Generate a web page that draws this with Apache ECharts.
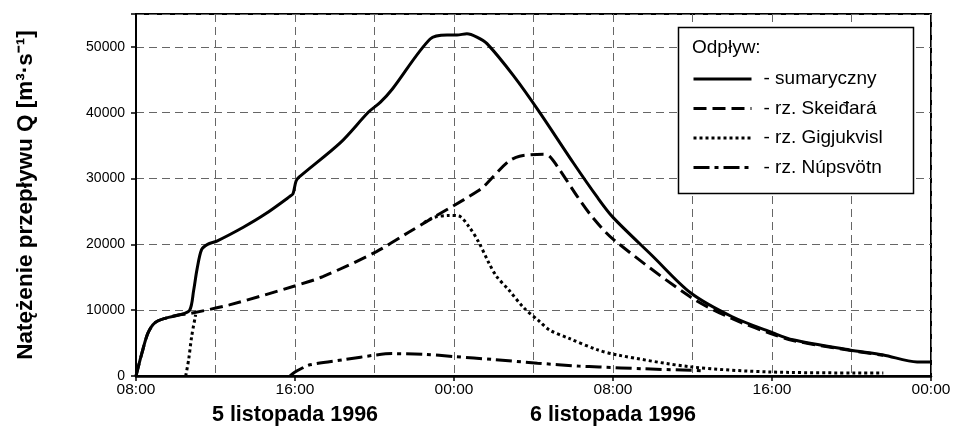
<!DOCTYPE html>
<html><head><meta charset="utf-8">
<script src="https://cdn.jsdelivr.net/npm/echarts@6/dist/echarts.min.js"></script>
<style>html,body{margin:0;padding:0;background:#fff}#c{width:959px;height:429px}</style>
</head><body><div id="c"></div>
<script>
// hours since 08:00, 5 Nov 1996
const seriesNames = ['sumaryczny', 'rz. Skeiđará', 'rz. Gigjukvisl', 'rz. Núpsvötn'];
const timeLabels = ['08:00', '16:00', '00:00', '08:00', '16:00', '00:00'];
const dateLabels = ['5 listopada 1996', '6 listopada 1996'];

const sumHours  = [0, 0.3, 0.6, 0.96, 1.5, 2.2, 2.7, 2.9, 3.07, 3.3, 3.6, 4.07, 5.4, 6.5, 7.75, 7.9, 8.05, 8.2, 10.3, 11.7, 12.3, 12.9, 14.8, 15.65, 16.15, 16.65, 17.15, 17.66, 19, 20.3, 22, 23.2, 24, 26, 27.9, 30, 32.05, 33.05, 35.9, 37.6, 39.3, 40];
const sumValues = [0, 3500, 6500, 8100, 8800, 9300, 10000, 13000, 16200, 19200, 20000, 20500, 22600, 24600, 27300, 27700, 29600, 30200, 35500, 40100, 41600, 43600, 51200, 51800, 51800, 52000, 51500, 50500, 45600, 40100, 32400, 27200, 24100, 18200, 12650, 9000, 6550, 5500, 3960, 3200, 2130, 2130];

const skHours  = [0, 0.3, 0.6, 0.96, 1.5, 2.2, 2.7, 4.7, 7.9, 9.4, 12.1, 13.7, 14.8, 16.5, 17.2, 17.5, 18.7, 19.3, 20.5, 20.8, 21.3, 22.2, 23.0, 24, 27.9, 30, 31.9, 33.05, 35.9, 37.6];
const skValues = [0, 3500, 6500, 8100, 8800, 9300, 9500, 10800, 13600, 15100, 18900, 21800, 23800, 26800, 28100, 28800, 32500, 33400, 33700, 33400, 31400, 27300, 24000, 20800, 12000, 8700, 6500, 5400, 3900, 3150];

const ggHours  = [2.5, 2.65, 2.8, 3.0, 3.5, 14.5, 15.0, 15.75, 16.25, 16.75, 17.25, 17.75, 18.15, 18.75, 19.5, 20.3, 20.8, 21.8, 23.2, 24.2, 27.9, 32, 37.6];
const ggValues = [0, 2500, 6000, 9300, null, 23300, 24100, 24400, 24300, 22700, 20300, 17200, 15100, 13100, 10400, 8300, 7000, 5700, 4000, 3200, 1400, 600, 450];

const npHours  = [7.75, 8.0, 8.3, 8.75, 10.5, 12.1, 12.9, 14.5, 16, 18, 20.2, 22.3, 23.3, 25.5, 27.5, 28.5];
const npValues = [0, 600, 1100, 1700, 2500, 3200, 3400, 3300, 2950, 2500, 1950, 1500, 1370, 1100, 900, 800];

const pairs = (h, v) => h.map((x, i) => [x, v[i]]);
const sans = '"Liberation Sans", Arial, Helvetica, sans-serif';
const gridLine = { show: true, lineStyle: { color: '#666', width: 1, type: [8, 5] } };

const chart = echarts.init(document.getElementById('c'), null, { renderer: 'canvas' });
chart.setOption({
  animation: false,
  backgroundColor: '#fff',
  grid: { left: 136, right: 28, top: 14, bottom: 53, show: true, borderColor: '#000', borderWidth: 2 },
  xAxis: [{
    type: 'value', min: 0, max: 40, interval: 8,
    axisLine: { lineStyle: { color: '#000', width: 2.5 } },
    axisTick: { length: 5, lineStyle: { color: '#000', width: 1.5 } },
    axisLabel: { formatter: v => timeLabels[Math.round(v / 8)], color: '#000', fontSize: 15.5, fontFamily: sans, margin: 6 },
    splitLine: gridLine,
    minorTick: { show: false, splitNumber: 2 },
    minorSplitLine: gridLine
  }, {
    type: 'value', min: 0, max: 40, interval: 8, position: 'bottom',
    axisLine: { show: false }, axisTick: { show: false }, splitLine: { show: false },
    axisLabel: {
      formatter: v => v === 8 ? dateLabels[0] : (v === 24 ? dateLabels[1] : ''),
      color: '#000', fontSize: 21.5, fontWeight: 'bold', fontFamily: sans, margin: 28
    }
  }],
  yAxis: {
    type: 'value', min: 0, max: 55000, interval: 10000,
    name: 'Natężenie przepływu Q [m³·s⁻¹]', nameLocation: 'middle', nameGap: 99, nameRotate: 90,
    nameTextStyle: { color: '#000', fontSize: 22.5, fontWeight: 'bold', fontFamily: sans },
    axisLine: { show: true, lineStyle: { color: '#000', width: 2 } },
    axisTick: { show: true, length: 5, lineStyle: { color: '#000', width: 1.5 } },
    axisLabel: { formatter: v => (v <= 50000 ? String(v) : ''), color: '#000', fontSize: 14, fontFamily: sans, margin: 11 },
    splitLine: gridLine
  },
  legend: {
    data: seriesNames, orient: 'vertical', left: 692, top: 68, z: 10,
    itemWidth: 58, itemHeight: 14, itemGap: 7.5, padding: 0,
    formatter: n => '- ' + n,
    textStyle: { color: '#000', fontSize: 19, lineHeight: 22, fontFamily: sans, padding: [0, 0, 0, 7] },
    itemStyle: { opacity: 0 },
    lineStyle: { width: 3, opacity: 1 },
    selectedMode: false
  },
  graphic: [
    { type: 'rect', z: 5, shape: { x: 678.5, y: 27.5, width: 235, height: 166 }, style: { fill: '#fff', stroke: '#000', lineWidth: 1.5 } },
    { type: 'text', z: 6, x: 692, y: 48, style: { text: 'Odpływ:', fill: '#000', fontSize: 19, fontFamily: sans, verticalAlign: 'middle' } }
  ],
  series: [
    { name: seriesNames[0], type: 'line', z: 5, data: pairs(sumHours, sumValues), symbol: 'none', smooth: 0.3,
      lineStyle: { color: '#000', width: 3, type: 'solid' }, itemStyle: { color: '#000' } },
    { name: seriesNames[1], type: 'line', z: 3, data: pairs(skHours, skValues), symbol: 'none', smooth: 0.3,
      lineStyle: { color: '#000', width: 3, type: [13, 6] }, itemStyle: { color: '#000' } },
    { name: seriesNames[2], type: 'line', z: 4, data: pairs(ggHours, ggValues), symbol: 'none', smooth: 0.3, connectNulls: false,
      lineStyle: { color: '#000', width: 3, type: [3, 3] }, itemStyle: { color: '#000' } },
    { name: seriesNames[3], type: 'line', z: 2, data: pairs(npHours, npValues), symbol: 'none', smooth: 0.3,
      lineStyle: { color: '#000', width: 3, type: [16, 5, 4, 5] }, itemStyle: { color: '#000' } }
  ]
});
</script></body></html>
